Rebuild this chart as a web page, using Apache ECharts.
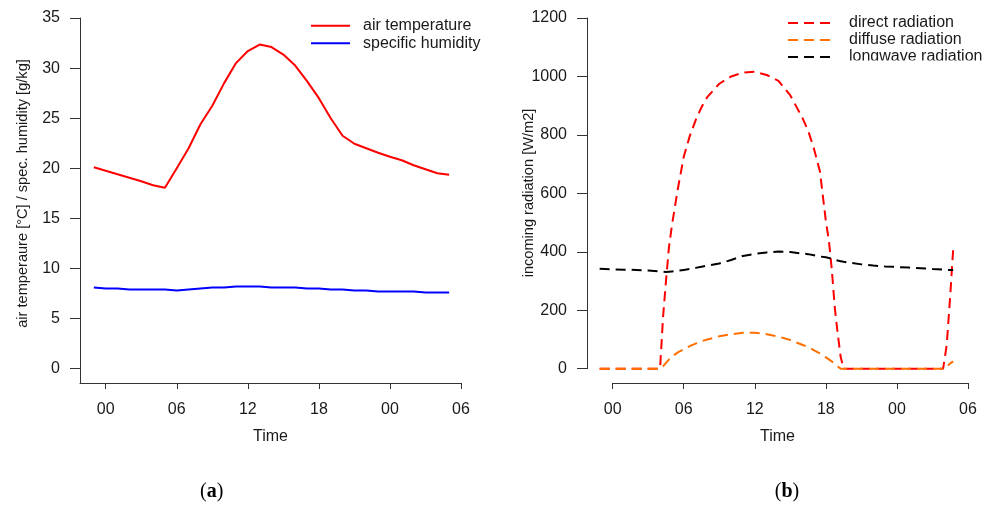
<!DOCTYPE html>
<html>
<head>
<meta charset="utf-8">
<script src="https://cdn.jsdelivr.net/npm/echarts@6/dist/echarts.min.js"></script>
<style>
  html, body { margin: 0; padding: 0; background: #fff; }
  #chart { width: 984px; height: 505px; }
</style>
</head>
<body>
<div id="chart"></div>
<script>
// Time axis: hours from midnight of the first day
const hourTicks = [0, 6, 12, 18, 24, 30];
const hourTickLabels = ['00', '06', '12', '18', '00', '06'];
const tempTicks = [0, 5, 10, 15, 20, 25, 30, 35];

// (a) hourly meteorology
const metHours = [-1, 0, 1, 2, 3, 4, 5, 6, 7, 8, 9, 10, 11, 12, 13, 14,
  15, 16, 17, 18, 19, 20, 21, 22, 23, 24, 25, 26, 27, 28, 29];
const airTemperature = [20.1, 19.75, 19.4, 19.05, 18.7, 18.3, 18.05, 20.0, 22.0, 24.4,
  26.25, 28.5, 30.5, 31.7, 32.35, 32.1, 31.35, 30.25, 28.7, 27.0, 25.0, 23.25, 22.45,
  22.0, 21.55, 21.15, 20.8, 20.3, 19.9, 19.5, 19.35];
const specificHumidity = [8.1, 8.0, 8.0, 7.9, 7.9, 7.9, 7.9, 7.8, 7.9, 8.0, 8.1, 8.1,
  8.2, 8.2, 8.2, 8.1, 8.1, 8.1, 8.0, 8.0, 7.9, 7.9, 7.8, 7.8, 7.7, 7.7, 7.7, 7.7,
  7.6, 7.6, 7.6];

// (b) incoming radiation
const radHours = [-1.1, 0, 1, 2, 3, 4.0, 4.25, 4.5, 4.75, 5.0, 5.5, 6.0, 6.5, 7.0, 7.5,
  8.0, 9.0, 10.0, 11.0, 12.0, 13.0, 14.0, 15.0, 16.0, 16.5, 17.0, 17.5, 18.0, 18.25,
  18.5, 18.75, 19.0, 19.25, 19.5, 20, 21, 22, 23, 24, 25, 26, 27, 27.9, 28.2, 28.5, 28.75];
const directRadiation = [0, 0, 0, 0, 0, 0, 175, 300, 415, 490, 615, 725, 795, 850, 895,
  930, 975, 1000, 1013, 1016, 1005, 985, 935, 860, 815, 752, 675, 505, 440,
  340, 210, 120, 40, 0, 0, 0, 0, 0, 0, 0, 0, 0, 0, 80, 250, 410];
const diffuseRadiation = [0, 0, 0, 0, 0, 0, 8, 20, 31, 41, 56, 66, 77, 86, 94,
  100, 111, 118, 123, 123, 118, 110, 98, 82, 74, 63, 52, 39, 32,
  25, 16, 8, 0, 0, 0, 0, 0, 0, 0, 0, 0, 0, 0, 8, 18, 25];
const longwaveRadiation = [342, 340, 339, 338, 336, 333, 332, 331, 332, 333, 335, 338, 341, 345, 349,
  353, 360, 372, 386, 393, 398, 401, 399, 394, 392, 388, 384, 381, 379,
  376, 373, 370, 368, 366, 363, 357, 353, 350, 348, 346, 344, 341, 339, 338, 338, 338];

const pairs = (xs, ys) => xs.map((x, i) => [x, ys[i]]);

const FONT = '"Liberation Sans", Arial, Helvetica, sans-serif';
const SERIF = '"Liberation Serif", "DejaVu Serif", serif';
const AXIS_COLOR = '#333';
const TEXT_COLOR = '#1a1a1a';
const DASH = [10, 6];

const hourLabel = v => {
  const i = hourTicks.indexOf(Math.round(v));
  return i >= 0 ? hourTickLabels[i] : '';
};
const plainNumber = v => String(v);
const axisLine = { show: true, onZero: false, lineStyle: { color: AXIS_COLOR, width: 1 } };
const labelStyle = { color: TEXT_COLOR, fontSize: 16, fontFamily: FONT };

const chart = echarts.init(document.getElementById('chart'), null, { renderer: 'canvas' });

chart.setOption({
  animation: false,
  backgroundColor: '#fff',
  grid: [
    { left: 80, top: 18, width: 381, height: 365 },            // panel (a)
    { left: 587, top: 18, width: 381, height: 350.7 },         // panel (b) plot area
    { left: 612.68, top: 18, width: 355.32, height: 365 }      // panel (b) time axis span
  ],
  xAxis: [
    {
      gridIndex: 0, type: 'value', min: -2.17, max: 30,
      axisLine: axisLine,
      axisTick: { show: true, customValues: hourTicks, length: 6, lineStyle: { color: AXIS_COLOR } },
      axisLabel: { show: true, customValues: hourTicks, formatter: hourLabel, margin: 19, ...labelStyle },
      splitLine: { show: false },
      name: 'Time', nameLocation: 'middle', nameGap: 45.5,
      nameTextStyle: { ...labelStyle }
    },
    {
      gridIndex: 1, type: 'value', min: -2.168, max: 30,
      axisLine: { show: false }, axisTick: { show: false }, axisLabel: { show: false },
      splitLine: { show: false },
      name: 'Time', nameLocation: 'middle', nameGap: 59.8,
      nameTextStyle: { ...labelStyle }
    },
    {
      gridIndex: 2, type: 'value', min: 0, max: 30, interval: 6,
      axisLine: axisLine,
      axisTick: { show: true, length: 6, lineStyle: { color: AXIS_COLOR } },
      axisLabel: { show: true, formatter: hourLabel, margin: 19, ...labelStyle },
      splitLine: { show: false }
    }
  ],
  yAxis: [
    {
      gridIndex: 0, type: 'value', min: -1.43, max: 35,
      axisLine: axisLine,
      axisTick: { show: true, customValues: tempTicks, length: 10, lineStyle: { color: AXIS_COLOR } },
      axisLabel: { show: true, customValues: tempTicks, formatter: plainNumber, margin: 20, ...labelStyle },
      splitLine: { show: false }
    },
    {
      gridIndex: 1, type: 'value', min: 0, max: 1200, interval: 200,
      axisLine: axisLine,
      axisTick: { show: true, length: 10, lineStyle: { color: AXIS_COLOR } },
      axisLabel: { show: true, formatter: plainNumber, margin: 20, ...labelStyle },
      splitLine: { show: false }
    },
    { gridIndex: 2, type: 'value', min: 0, max: 1, show: false }
  ],
  legend: [
    {
      data: ['air temperature', 'specific humidity'],
      orient: 'vertical', left: 310, top: 17.7, padding: 0,
      itemWidth: 39, itemHeight: 14, itemGap: 1.6,
      selectedMode: false,
      itemStyle: { opacity: 0 },
      textStyle: { ...labelStyle, padding: [0, 0, 0, 8] }
    },
    {
      data: ['direct radiation', 'diffuse radiation', 'longwave radiation'],
      orient: 'vertical', left: 787, top: 15, padding: 0,
      itemWidth: 43, itemHeight: 14, itemGap: 0.95,
      selectedMode: false,
      itemStyle: { opacity: 0 },
      textStyle: { ...labelStyle, padding: [0, 0, 0, 13] }
    }
  ],
  series: [
    {
      name: 'air temperature', type: 'line', xAxisIndex: 0, yAxisIndex: 0,
      data: pairs(metHours, airTemperature), symbol: 'none', color: '#ff0000',
      lineStyle: { color: '#ff0000', width: 2 }
    },
    {
      name: 'specific humidity', type: 'line', xAxisIndex: 0, yAxisIndex: 0,
      data: pairs(metHours, specificHumidity), symbol: 'none', color: '#0000ff',
      lineStyle: { color: '#0000ff', width: 2 }
    },
    {
      name: 'direct radiation', type: 'line', xAxisIndex: 1, yAxisIndex: 1, clip: false,
      data: pairs(radHours, directRadiation), symbol: 'none', color: '#ff0000',
      lineStyle: { color: '#ff0000', width: 2, type: DASH }
    },
    {
      name: 'diffuse radiation', type: 'line', xAxisIndex: 1, yAxisIndex: 1, clip: false,
      data: pairs(radHours, diffuseRadiation), symbol: 'none', color: '#ff7000',
      lineStyle: { color: '#ff7000', width: 2, type: DASH }
    },
    {
      name: 'longwave radiation', type: 'line', xAxisIndex: 1, yAxisIndex: 1, clip: false,
      data: pairs(radHours, longwaveRadiation), symbol: 'none', color: '#000000',
      lineStyle: { color: '#000000', width: 2, type: DASH }
    }
  ],
  graphic: [
    {
      type: 'text', x: 23, y: 193.5, rotation: Math.PI / 2,
      style: {
        text: 'air temperaure [°C] / spec. humidity [g/kg]',
        fill: TEXT_COLOR, font: '14.6px ' + FONT, align: 'center', verticalAlign: 'middle'
      }
    },
    {
      type: 'text', x: 529, y: 193, rotation: Math.PI / 2,
      style: {
        text: 'incoming radiation [W/m2]',
        fill: TEXT_COLOR, font: '14.6px ' + FONT, align: 'center', verticalAlign: 'middle'
      }
    },
    {
      // legend box edge trims the last entry's descenders
      type: 'rect', z: 100, shape: { x: 840, y: 60.5, width: 144, height: 10 },
      style: { fill: '#fff' }
    },
    {
      type: 'text', x: 211.7, y: 492,
      style: {
        text: '{p|(}{b|a}{p|)}', align: 'center', verticalAlign: 'middle',
        rich: {
          p: { fontSize: 20, fontFamily: SERIF, fill: '#000' },
          b: { fontSize: 20, fontWeight: 'bold', fontFamily: SERIF, fill: '#000' }
        }
      }
    },
    {
      type: 'text', x: 787, y: 492,
      style: {
        text: '{p|(}{b|b}{p|)}', align: 'center', verticalAlign: 'middle',
        rich: {
          p: { fontSize: 20, fontFamily: SERIF, fill: '#000' },
          b: { fontSize: 20, fontWeight: 'bold', fontFamily: SERIF, fill: '#000' }
        }
      }
    }
  ]
});
</script>
</body>
</html>
